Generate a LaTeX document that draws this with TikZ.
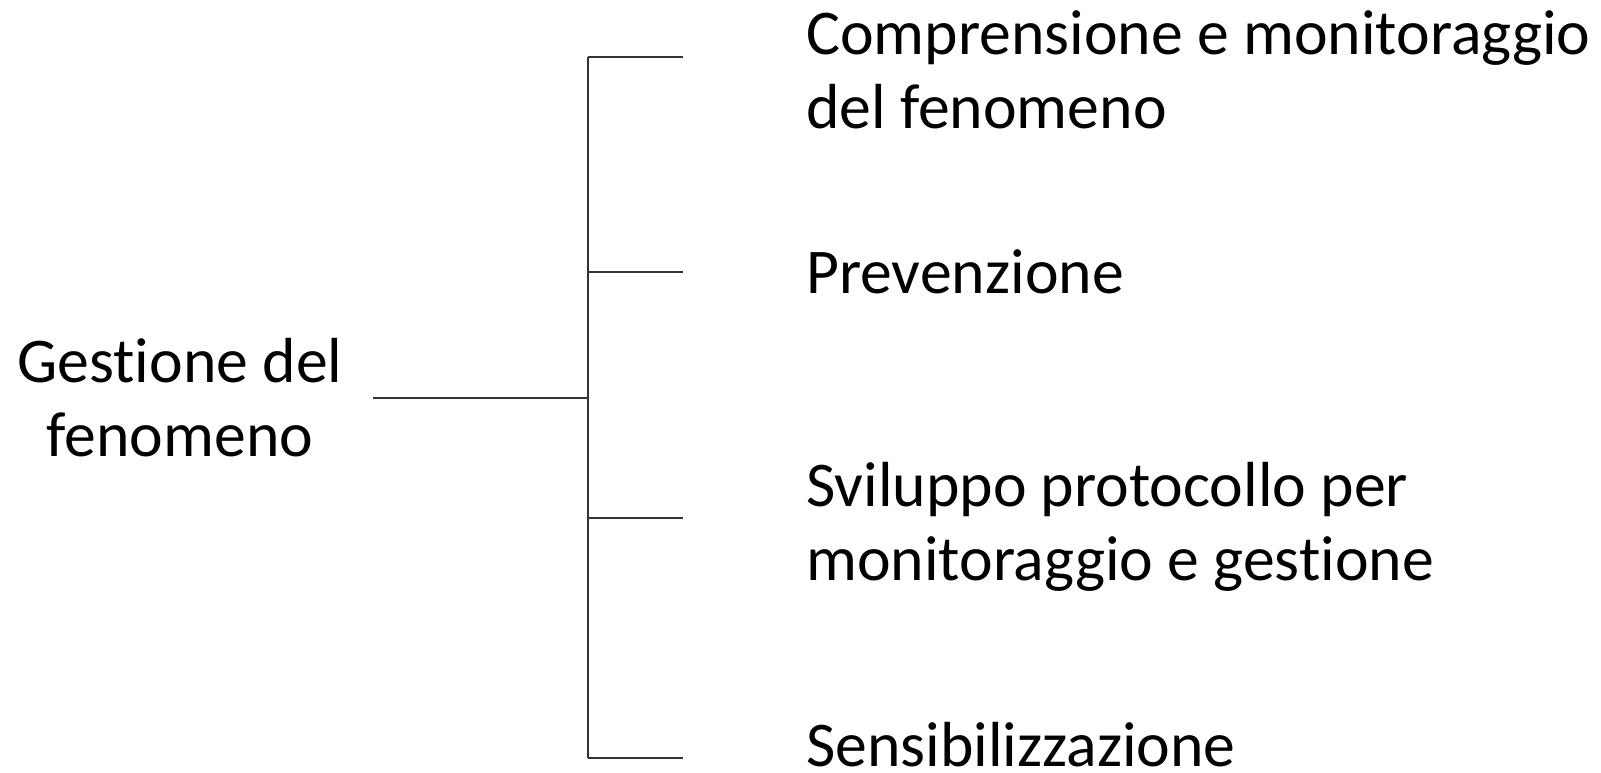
\documentclass[tikz,border=0pt]{standalone}
\usepackage{fontspec}
\setmainfont{Carlito}[Ligatures=NoCommon]
\usepackage{tikz}
\usetikzlibrary{positioning,calc}

\tikzset{
    lbl/.style={inner sep=0pt, anchor=base west, align=left, font=\fontsize{63.7}{74}\selectfont},
    wire/.style={draw=black!80, line width=1.3pt}
}

\begin{document}
\begin{tikzpicture}[x=1pt,y=-1pt]
    \useasboundingbox (0,0) rectangle (1601,772);

    % Root
    \node[lbl, anchor=base, align=center] (gest) at (180,456) {Gestione del\\fenomeno};
    \coordinate (r0) at (373,398);
    \coordinate (r1) at (588,398);
    \draw[wire] (r0) -- (r1);

    % Spine
    \coordinate (s1) at (588,57);
    \coordinate (s2) at (588,272);
    \coordinate (s3) at (588,518);
    \coordinate (s4) at (588,758);
    \draw[wire] (s1) -- (s4);

    % Branches
    \coordinate (e1) at (683,57);
    \coordinate (e2) at (683,272);
    \coordinate (e3) at (683,518);
    \coordinate (e4) at (683,758);
    \draw[wire] (s1) -- (e1);
    \draw[wire] (s2) -- (e2);
    \draw[wire] (s3) -- (e3);
    \draw[wire] (s4) -- (e4);

    % Leaves (base = last line)
    \node[lbl] (comp) at (806,128) {Comprensione e monitoraggio\\del fenomeno};
    \node[lbl] (prev) at (806,293) {Prevenzione};
    \node[lbl] (svil) at (806,580) {Sviluppo protocollo per\\monitoraggio e gestione};
    \node[lbl] (sens) at (806,766) {Sensibilizzazione};
\end{tikzpicture}
\end{document}
